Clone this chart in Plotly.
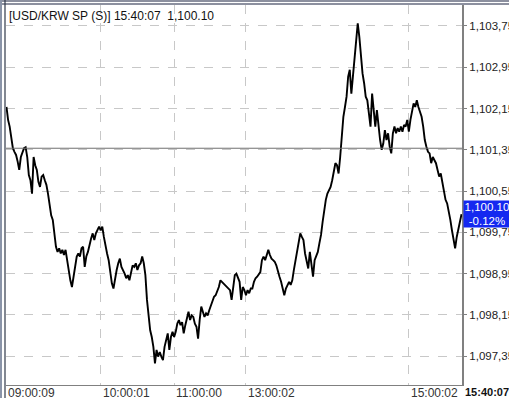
import plotly.graph_objects as go

# ---- data (tick chart) ----
price = [
    1102.18, 1101.93, 1101.80, 1101.60, 1101.38, 1101.31, 1101.25, 1101.12, 1100.96, 1101.21,
    1101.31, 1101.38, 1101.40, 1101.21, 1100.86, 1100.76, 1100.50, 1101.21, 1101.05, 1100.96,
    1100.73, 1100.63, 1100.83, 1100.86, 1100.76, 1100.67, 1100.50, 1100.28, 1100.08, 1099.99,
    1099.66, 1099.47, 1099.37, 1099.44, 1099.34, 1099.41, 1099.31, 1099.41, 1099.21, 1098.98,
    1098.82, 1098.69, 1098.89, 1099.15, 1099.28, 1099.34, 1099.28, 1099.44, 1099.47, 1099.08,
    1099.28, 1099.37, 1099.54, 1099.63, 1099.73, 1099.60, 1099.73, 1099.79, 1099.86, 1099.79,
    1099.86, 1099.66, 1099.47, 1099.34, 1099.21, 1098.95, 1098.76, 1098.66, 1098.89, 1099.02,
    1099.15, 1099.24, 1099.08, 1099.02, 1098.95, 1098.86, 1098.92, 1098.82, 1098.98, 1099.11,
    1099.08, 1099.15, 1099.02, 1099.11, 1099.15, 1099.28, 1099.15, 1098.92, 1098.44, 1098.11,
    1097.85, 1097.72, 1097.53, 1097.21, 1097.47, 1097.34, 1097.43, 1097.34, 1097.27, 1097.53,
    1097.66, 1097.79, 1097.47, 1097.72, 1097.82, 1097.72, 1097.82, 1097.98, 1098.05, 1097.95,
    1098.01, 1097.79, 1097.95, 1098.08, 1098.21, 1098.05, 1098.14, 1098.11, 1097.98, 1097.92,
    1097.69, 1098.05, 1098.31, 1098.21, 1098.11, 1098.18, 1098.14, 1098.24, 1098.34, 1098.44,
    1098.50, 1098.53, 1098.60, 1098.69, 1098.82, 1098.79, 1098.76, 1098.73, 1098.69, 1098.66,
    1098.63, 1098.44, 1098.69, 1098.92, 1098.95, 1098.86, 1098.79, 1098.44, 1098.69, 1098.63,
    1098.53, 1098.63, 1098.57, 1098.66, 1098.66, 1098.79, 1098.86, 1098.89, 1098.95, 1098.98,
    1099.21, 1099.28, 1099.21, 1099.31, 1099.41, 1099.31, 1099.24, 1099.21, 1099.18, 1099.11,
    1099.02, 1098.89, 1098.79, 1098.63, 1098.53, 1098.66, 1098.73, 1098.79, 1098.73, 1098.82,
    1099.02, 1099.21, 1099.34, 1099.54, 1099.73, 1099.66, 1099.60, 1099.34, 1099.15, 1099.05,
    1099.37, 1099.15, 1098.89, 1099.21, 1099.28, 1099.37, 1099.54, 1099.70, 1099.95, 1100.18,
    1100.38, 1100.50, 1100.57, 1100.63, 1100.76, 1100.96, 1101.09, 1101.05, 1100.89, 1101.21,
    1101.67, 1101.99, 1102.18, 1102.38, 1102.77, 1102.90, 1102.44, 1102.77, 1103.09, 1103.48,
    1103.80, 1103.54, 1103.09, 1102.83, 1102.64, 1102.38, 1102.31, 1102.06, 1101.80, 1102.44,
    1102.18, 1101.80, 1102.12, 1101.80, 1101.54, 1101.35, 1101.47, 1101.73, 1101.54, 1101.67,
    1101.41, 1101.28, 1101.67, 1101.80, 1101.67, 1101.77, 1101.70, 1101.80, 1101.70, 1101.83,
    1101.80, 1101.93, 1101.70, 1101.93, 1102.06, 1102.25, 1102.18, 1102.31, 1102.18, 1102.06,
    1101.99, 1101.80, 1101.54, 1101.41, 1101.31, 1101.28, 1101.09, 1101.21, 1101.15, 1101.09,
    1100.96, 1100.83, 1100.89, 1100.70, 1100.57, 1100.38, 1100.31, 1100.18, 1099.99, 1099.79,
    1099.60, 1099.44, 1099.66, 1099.83, 1099.92, 1100.10,
]
tick_index = list(range(len(price)))

time_labels = ["09:00:09", "10:00:01", "11:00:00", "13:00:02", "15:00:02"]
time_positions = [0, 59, 105, 150, 252]
last_time = "15:40:07"

y_tick_values = [1097.35, 1098.15, 1098.95, 1099.75, 1100.55, 1101.35, 1102.15, 1102.95, 1103.75]
prev_close = 1101.38
last_price = 1100.10
change_pct = -0.12
instrument = "[USD/KRW SP (S)]"

# ---- figure ----
W, H = 509, 398
ML, MR, MT, MB = 6, 47, 5, 13
pw, ph = W - ML - MR, H - MT - MB

fig = go.Figure()
fig.add_trace(go.Scatter(
    x=tick_index, y=price, mode="lines",
    line=dict(color="#000000", width=1.9),
    hoverinfo="skip", showlegend=False,
))

grid = dict(showgrid=True, gridcolor="#c8c8c8", griddash="dash", gridwidth=1)

fig.update_xaxes(
    range=[-0.3, len(price) - 0.7], automargin=False,
    tickvals=time_positions, showticklabels=False, ticks="",
    showline=True, linecolor="#808080", linewidth=1, zeroline=False,
    **grid,
)
fig.update_yaxes(
    side="right", range=[1096.79, 1104.157], automargin=False,
    tickvals=y_tick_values,
    ticktext=[f"{v:,.2f}".replace(".", ",") for v in y_tick_values],
    ticks="outside", ticklen=3, tickcolor="#808080", ticklabelstandoff=0,
    tickfont=dict(family="Liberation Sans, Arial, sans-serif", size=11.5, color="#222222"),
    showline=True, linecolor="#808080", linewidth=2, zeroline=False,
    **grid,
)

# previous close reference line
fig.add_shape(type="line", xref="paper", yref="y", x0=0, x1=1,
              y0=prev_close, y1=prev_close, line=dict(color="#707070", width=1))

# frame lines (top double, left double)
def px_x(p):
    return (p - ML) / pw

def px_y(p):
    return 1 - (p - MT) / ph

for yy, col in [(1, "#1a2340"), (4, "#1a2340")]:
    fig.add_shape(type="line", xref="paper", yref="paper", x0=px_x(0), x1=px_x(W),
                  y0=px_y(yy), y1=px_y(yy), line=dict(color=col, width=1.2))
for xx, col, wd in [(1, "#8a94a8", 2), (5, "#303848", 1.2)]:
    fig.add_shape(type="line", xref="paper", yref="paper", x0=px_x(xx), x1=px_x(xx),
                  y0=px_y(0), y1=px_y(H), line=dict(color=col, width=wd))

font = "Liberation Sans, Arial, sans-serif"
ann = []
ann.append(dict(
    text=f"{instrument} {last_time}\u00a0\u00a0{last_price:,.2f}",
    xref="paper", yref="paper", x=0, y=1, xanchor="left", yanchor="top",
    xshift=1, yshift=-2, showarrow=False,
    font=dict(family=font, size=12, color="#111111"),
))
for lab, pos in zip(time_labels, time_positions):
    ann.append(dict(
        text=lab, xref="x", yref="paper", x=pos, y=0,
        xanchor="left", yanchor="top", yshift=1, xshift=0, showarrow=False,
        font=dict(family=font, size=12, color="#333333"),
    ))
ann.append(dict(
    text=f"<b>{last_time}</b>", xref="paper", yref="paper", x=1, y=0,
    xanchor="left", yanchor="top", xshift=1, yshift=1, showarrow=False,
    font=dict(family=font, size=11, color="#111111"),
))
ann.append(dict(
    text=f"{last_price:,.2f}<br>{change_pct:.2f}%",
    xref="paper", yref="y", x=1, y=last_price, xanchor="left", yanchor="middle",
    xshift=1, showarrow=False, bgcolor="#1428f0", borderpad=0,
    width=46, height=26, align="center",
    font=dict(family=font, size=11.5, color="#ffffff"),
))

fig.update_layout(
    width=W, height=H, autosize=False,
    margin=dict(l=ML, r=MR, t=MT, b=MB),
    paper_bgcolor="#ffffff", plot_bgcolor="#ffffff",
    annotations=ann, showlegend=False,
)

fig.write_html("out.html", config={"displayModeBar": False})
